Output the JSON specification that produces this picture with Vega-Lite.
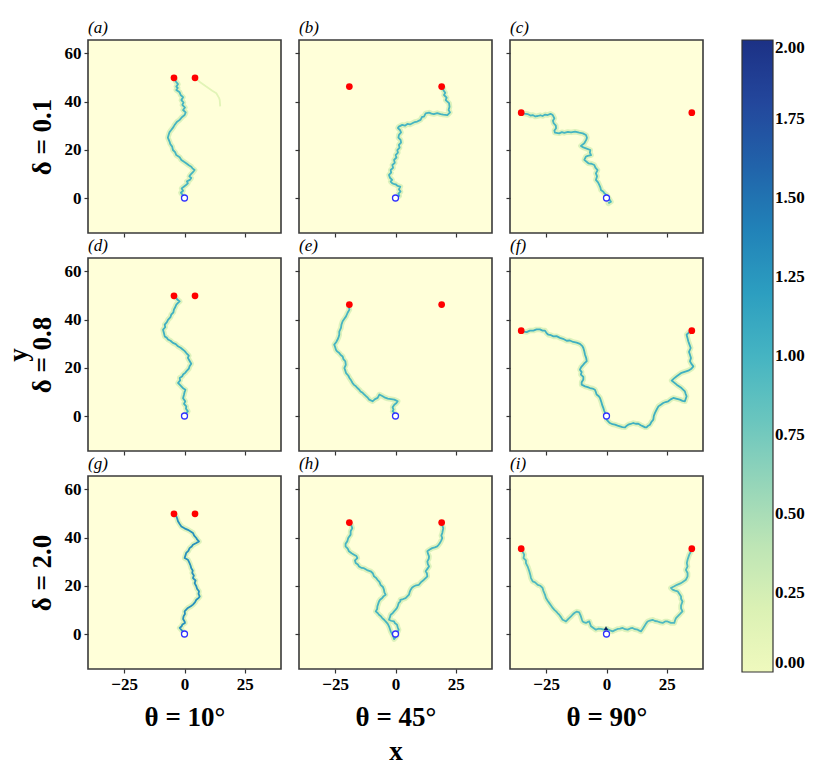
{
"$schema":"https://vega.github.io/schema/vega-lite/v6.json",
"padding":{"left":3,"top":18,"right":5,"bottom":5},
"background":"white",
"config":{
 "font":"Liberation Serif",
 "view":{"stroke":"#3a3a3a","strokeWidth":1.6,"fill":"#ffffd9"},
 "axis":{"domain":false,"grid":false,"ticks":true,"tickColor":"#333","tickSize":4,"tickWidth":1.2,"labelFont":"Liberation Serif","labelFontSize":17,"labelFontWeight":"bold","labelColor":"#000","labelPadding":3,"titleFont":"Liberation Serif","titleFontWeight":"bold","titleColor":"#000","titleFontSize":27},
 "axisX":{"titlePadding":12,"titleLineHeight":34},
 "axisY":{"titlePadding":8,"titleLineHeight":24},
 "title":{"anchor":"start","font":"Liberation Serif","fontSize":17,"fontStyle":"italic","fontWeight":"normal","offset":3,"color":"#000","frame":"group"},
 "legend":{"gradientLength":632,"gradientThickness":31,"labelFont":"Liberation Serif","labelFontSize":17,"labelFontWeight":"bold","labelColor":"#000","gradientStrokeColor":"#333","gradientStrokeWidth":1.2,"labelOffset":7,"orient":"right","offset":38},
 "range":{"ramp":{"scheme":"yellowgreenblue"}}
},
"datasets":{
 "tracks":[{"t":"a1","rho":1.0},{"t":"a2","rho":0.13},{"t":"b1","rho":1.0},{"t":"c1","rho":1.0},{"t":"d1","rho":1.05},{"t":"e1","rho":1.0},{"t":"f1","rho":1.05},{"t":"f2","rho":1.05},{"t":"g1","rho":1.3},{"t":"h1","rho":1.0},{"t":"h2","rho":1.0},{"t":"i1","rho":0.95},{"t":"i2","rho":0.95}],
 "pts":[
  {"p":"a","k":"target","x":-4.36,"y":49.81},{"p":"a","k":"target","x":4.36,"y":49.81},{"p":"a","k":"origin","x":0,"y":0},
  {"p":"b","k":"target","x":-19.13,"y":46.19},{"p":"b","k":"target","x":19.13,"y":46.19},{"p":"b","k":"origin","x":0,"y":0},
  {"p":"c","k":"target","x":-35.36,"y":35.36},{"p":"c","k":"target","x":35.36,"y":35.36},{"p":"c","k":"origin","x":0,"y":0},
  {"p":"d","k":"target","x":-4.36,"y":49.81},{"p":"d","k":"target","x":4.36,"y":49.81},{"p":"d","k":"origin","x":0,"y":0},
  {"p":"e","k":"target","x":-19.13,"y":46.19},{"p":"e","k":"target","x":19.13,"y":46.19},{"p":"e","k":"origin","x":0,"y":0},
  {"p":"f","k":"target","x":-35.36,"y":35.36},{"p":"f","k":"target","x":35.36,"y":35.36},{"p":"f","k":"origin","x":0,"y":0},
  {"p":"g","k":"target","x":-4.36,"y":49.81},{"p":"g","k":"target","x":4.36,"y":49.81},{"p":"g","k":"origin","x":0,"y":0},
  {"p":"h","k":"target","x":-19.13,"y":46.19},{"p":"h","k":"target","x":19.13,"y":46.19},{"p":"h","k":"origin","x":0,"y":0},
  {"p":"i","k":"target","x":-35.36,"y":35.36},{"p":"i","k":"target","x":35.36,"y":35.36},{"p":"i","k":"origin","x":0,"y":0},{"p":"i","k":"peak","x":-0.2,"y":2.4}
 ],
 "paths":[
  {"t":"a1","x":0,"y":0.5},{"t":"a1","x":-0.8,"y":1.3},{"t":"a1","x":-1.5,"y":2.2},{"t":"a1","x":-0.6,"y":3.0},{"t":"a1","x":-1.2,"y":4.0},{"t":"a1","x":-0.3,"y":4.7},{"t":"a1","x":0.5,"y":5.3},{"t":"a1","x":1.4,"y":6.1},{"t":"a1","x":1.0,"y":6.9},{"t":"a1","x":2.2,"y":7.5},{"t":"a1","x":2.8,"y":8.3},{"t":"a1","x":2.0,"y":9.0},{"t":"a1","x":2.6,"y":9.8},{"t":"a1","x":3.4,"y":10.6},{"t":"a1","x":4.2,"y":11.6},{"t":"a1","x":3.3,"y":12.3},{"t":"a1","x":2.8,"y":13.0},{"t":"a1","x":1.8,"y":13.6},{"t":"a1","x":0.7,"y":14.4},{"t":"a1","x":-0.2,"y":15.0},{"t":"a1","x":-1.3,"y":15.8},{"t":"a1","x":-2.0,"y":16.9},{"t":"a1","x":-3.4,"y":17.8},{"t":"a1","x":-3.9,"y":19.0},{"t":"a1","x":-4.8,"y":19.9},{"t":"a1","x":-5.1,"y":21.3},{"t":"a1","x":-5.9,"y":22.4},{"t":"a1","x":-6.2,"y":23.4},{"t":"a1","x":-6.9,"y":25.0},{"t":"a1","x":-6.6,"y":26.1},{"t":"a1","x":-6.2,"y":27.3},{"t":"a1","x":-5.5,"y":28.2},{"t":"a1","x":-4.6,"y":29.4},{"t":"a1","x":-4.1,"y":30.3},{"t":"a1","x":-3.2,"y":31.5},{"t":"a1","x":-2.0,"y":32.4},{"t":"a1","x":-1.1,"y":33.5},{"t":"a1","x":0.05,"y":34.4},{"t":"a1","x":0.5,"y":35.5},{"t":"a1","x":-0.6,"y":36.5},{"t":"a1","x":0.2,"y":37.5},{"t":"a1","x":-0.9,"y":38.6},{"t":"a1","x":-0.4,"y":39.6},{"t":"a1","x":-1.3,"y":40.6},{"t":"a1","x":-0.6,"y":41.8},{"t":"a1","x":-1.6,"y":42.7},{"t":"a1","x":-2.0,"y":43.8},{"t":"a1","x":-3.4,"y":44.8},{"t":"a1","x":-2.8,"y":45.6},{"t":"a1","x":-3.4,"y":46.2},{"t":"a1","x":-2.7,"y":47.2},{"t":"a1","x":-3.5,"y":48.2},{"t":"a1","x":-3.9,"y":49.0},{"t":"a1","x":-4.36,"y":49.81},
  {"t":"a2","x":4.4,"y":49.8},{"t":"a2","x":6.5,"y":48.0},{"t":"a2","x":9.0,"y":46.2},{"t":"a2","x":11.5,"y":44.5},{"t":"a2","x":13.2,"y":43.4},{"t":"a2","x":14.3,"y":41.5},{"t":"a2","x":14.6,"y":40.6},{"t":"a2","x":14.8,"y":38.0},
  {"t":"b1","x":0.6,"y":0.3},{"t":"b1","x":1.6,"y":0.9},{"t":"b1","x":1.2,"y":1.8},{"t":"b1","x":2.1,"y":2.65},{"t":"b1","x":1.4,"y":3.6},{"t":"b1","x":2.0,"y":4.7},{"t":"b1","x":0.9,"y":5.0},{"t":"b1","x":0.05,"y":5.7},{"t":"b1","x":-0.8,"y":5.9},{"t":"b1","x":-1.3,"y":6.1},{"t":"b1","x":-2.0,"y":6.8},{"t":"b1","x":-1.4,"y":7.5},{"t":"b1","x":-2.3,"y":8.4},{"t":"b1","x":-2.7,"y":9.6},{"t":"b1","x":-1.8,"y":10.5},{"t":"b1","x":-2.0,"y":11.6},{"t":"b1","x":-1.0,"y":12.5},{"t":"b1","x":-1.3,"y":13.7},{"t":"b1","x":-0.3,"y":14.6},{"t":"b1","x":-0.6,"y":15.8},{"t":"b1","x":0.4,"y":16.8},{"t":"b1","x":0.05,"y":17.8},{"t":"b1","x":1.0,"y":18.8},{"t":"b1","x":0.75,"y":19.9},{"t":"b1","x":1.7,"y":20.9},{"t":"b1","x":1.4,"y":22.0},{"t":"b1","x":2.3,"y":23.0},{"t":"b1","x":2.1,"y":24.1},{"t":"b1","x":1.2,"y":25.0},{"t":"b1","x":1.4,"y":26.1},{"t":"b1","x":2.3,"y":27.2},{"t":"b1","x":1.85,"y":28.2},{"t":"b1","x":1.0,"y":29.0},{"t":"b1","x":1.4,"y":29.6},{"t":"b1","x":2.8,"y":30.3},{"t":"b1","x":3.9,"y":30.0},{"t":"b1","x":4.9,"y":30.7},{"t":"b1","x":6.0,"y":30.5},{"t":"b1","x":7.0,"y":31.0},{"t":"b1","x":8.0,"y":31.5},{"t":"b1","x":9.0,"y":31.7},{"t":"b1","x":10.4,"y":32.4},{"t":"b1","x":11.0,"y":33.6},{"t":"b1","x":11.8,"y":33.7},{"t":"b1","x":12.5,"y":35.1},{"t":"b1","x":13.9,"y":35.4},{"t":"b1","x":14.9,"y":35.0},{"t":"b1","x":15.9,"y":34.8},{"t":"b1","x":17.3,"y":35.2},{"t":"b1","x":18.7,"y":34.8},{"t":"b1","x":19.8,"y":34.6},{"t":"b1","x":21.5,"y":34.4},{"t":"b1","x":22.6,"y":35.5},{"t":"b1","x":22.0,"y":36.5},{"t":"b1","x":22.4,"y":37.8},{"t":"b1","x":22.2,"y":39.3},{"t":"b1","x":20.8,"y":40.6},{"t":"b1","x":21.2,"y":41.6},{"t":"b1","x":20.1,"y":42.7},{"t":"b1","x":20.6,"y":43.6},{"t":"b1","x":19.8,"y":44.8},{"t":"b1","x":19.9,"y":45.5},{"t":"b1","x":19.13,"y":46.19},
  {"t":"c1","x":-35.36,"y":35.36},{"t":"c1","x":-34.0,"y":35.0},{"t":"c1","x":-32.7,"y":34.8},{"t":"c1","x":-31.5,"y":34.2},{"t":"c1","x":-30.6,"y":34.4},{"t":"c1","x":-29.5,"y":33.8},{"t":"c1","x":-28.5,"y":34.0},{"t":"c1","x":-27.4,"y":34.3},{"t":"c1","x":-26.5,"y":34.0},{"t":"c1","x":-25.4,"y":34.6},{"t":"c1","x":-24.4,"y":34.4},{"t":"c1","x":-23.2,"y":34.9},{"t":"c1","x":-22.3,"y":34.4},{"t":"c1","x":-21.6,"y":33.0},{"t":"c1","x":-22.2,"y":32.0},{"t":"c1","x":-21.9,"y":31.0},{"t":"c1","x":-21.0,"y":30.0},{"t":"c1","x":-20.9,"y":28.9},{"t":"c1","x":-21.6,"y":28.0},{"t":"c1","x":-21.4,"y":27.1},{"t":"c1","x":-19.6,"y":26.8},{"t":"c1","x":-18.5,"y":27.3},{"t":"c1","x":-17.5,"y":27.0},{"t":"c1","x":-16.0,"y":27.4},{"t":"c1","x":-14.7,"y":27.2},{"t":"c1","x":-13.0,"y":27.5},{"t":"c1","x":-11.3,"y":27.1},{"t":"c1","x":-9.8,"y":26.8},{"t":"c1","x":-8.5,"y":26.1},{"t":"c1","x":-8.1,"y":25.0},{"t":"c1","x":-8.4,"y":24.1},{"t":"c1","x":-9.2,"y":22.7},{"t":"c1","x":-10.6,"y":21.6},{"t":"c1","x":-9.6,"y":21.0},{"t":"c1","x":-8.5,"y":20.6},{"t":"c1","x":-6.7,"y":19.9},{"t":"c1","x":-6.9,"y":18.8},{"t":"c1","x":-6.4,"y":17.8},{"t":"c1","x":-7.8,"y":17.5},{"t":"c1","x":-8.5,"y":17.2},{"t":"c1","x":-9.2,"y":15.8},{"t":"c1","x":-7.5,"y":14.4},{"t":"c1","x":-6.2,"y":14.2},{"t":"c1","x":-5.05,"y":13.7},{"t":"c1","x":-4.6,"y":12.6},{"t":"c1","x":-3.7,"y":11.6},{"t":"c1","x":-4.4,"y":10.2},{"t":"c1","x":-3.9,"y":9.0},{"t":"c1","x":-4.4,"y":7.5},{"t":"c1","x":-3.5,"y":6.5},{"t":"c1","x":-3.0,"y":5.4},{"t":"c1","x":-2.5,"y":4.3},{"t":"c1","x":-2.3,"y":3.3},{"t":"c1","x":-1.3,"y":2.6},{"t":"c1","x":-0.9,"y":2.0},{"t":"c1","x":0.0,"y":1.3},{"t":"c1","x":0.5,"y":0.6},{"t":"c1","x":1.2,"y":-0.5},{"t":"c1","x":1.85,"y":-1.5},{"t":"c1","x":0.75,"y":-2.2},
  {"t":"d1","x":0.3,"y":0.6},{"t":"d1","x":1.4,"y":1.96},{"t":"d1","x":0.6,"y":3.0},{"t":"d1","x":0.75,"y":4.0},{"t":"d1","x":-0.2,"y":5.0},{"t":"d1","x":0.3,"y":6.1},{"t":"d1","x":-0.6,"y":7.4},{"t":"d1","x":-0.2,"y":8.9},{"t":"d1","x":0.05,"y":10.0},{"t":"d1","x":0.4,"y":10.9},{"t":"d1","x":-0.6,"y":11.5},{"t":"d1","x":-1.3,"y":12.3},{"t":"d1","x":-2.0,"y":13.0},{"t":"d1","x":-2.7,"y":13.7},{"t":"d1","x":-1.8,"y":14.8},{"t":"d1","x":-2.0,"y":15.8},{"t":"d1","x":-0.9,"y":16.5},{"t":"d1","x":-0.6,"y":17.2},{"t":"d1","x":0.4,"y":18.0},{"t":"d1","x":0.75,"y":18.5},{"t":"d1","x":1.8,"y":19.6},{"t":"d1","x":2.1,"y":20.6},{"t":"d1","x":2.8,"y":21.7},{"t":"d1","x":2.2,"y":22.7},{"t":"d1","x":1.4,"y":24.1},{"t":"d1","x":1.8,"y":25.0},{"t":"d1","x":0.75,"y":26.1},{"t":"d1","x":0.2,"y":26.8},{"t":"d1","x":-0.6,"y":27.5},{"t":"d1","x":-1.6,"y":28.3},{"t":"d1","x":-2.7,"y":28.9},{"t":"d1","x":-3.6,"y":29.8},{"t":"d1","x":-4.8,"y":30.3},{"t":"d1","x":-5.8,"y":31.2},{"t":"d1","x":-6.85,"y":31.7},{"t":"d1","x":-7.4,"y":32.5},{"t":"d1","x":-8.2,"y":33.0},{"t":"d1","x":-8.5,"y":34.3},{"t":"d1","x":-8.9,"y":35.8},{"t":"d1","x":-8.0,"y":36.8},{"t":"d1","x":-8.2,"y":37.9},{"t":"d1","x":-7.3,"y":38.9},{"t":"d1","x":-6.85,"y":39.9},{"t":"d1","x":-5.8,"y":41.0},{"t":"d1","x":-5.5,"y":42.0},{"t":"d1","x":-4.6,"y":43.0},{"t":"d1","x":-4.4,"y":44.1},{"t":"d1","x":-3.8,"y":45.2},{"t":"d1","x":-3.4,"y":46.2},{"t":"d1","x":-2.6,"y":47.0},{"t":"d1","x":-2.0,"y":47.5},{"t":"d1","x":-3.0,"y":48.3},{"t":"d1","x":-3.4,"y":48.9},{"t":"d1","x":-4.36,"y":49.81},
  {"t":"e1","x":0.2,"y":0.3},{"t":"e1","x":-0.5,"y":1.3},{"t":"e1","x":-1.2,"y":2.0},{"t":"e1","x":-0.8,"y":2.65},{"t":"e1","x":-1.2,"y":3.6},{"t":"e1","x":-0.5,"y":4.7},{"t":"e1","x":0.4,"y":5.4},{"t":"e1","x":0.9,"y":6.1},{"t":"e1","x":-0.5,"y":6.8},{"t":"e1","x":-1.8,"y":7.0},{"t":"e1","x":-3.2,"y":7.2},{"t":"e1","x":-4.3,"y":7.6},{"t":"e1","x":-5.3,"y":8.2},{"t":"e1","x":-6.7,"y":8.9},{"t":"e1","x":-7.4,"y":7.5},{"t":"e1","x":-8.5,"y":7.0},{"t":"e1","x":-9.5,"y":6.1},{"t":"e1","x":-10.9,"y":6.8},{"t":"e1","x":-11.5,"y":7.6},{"t":"e1","x":-12.2,"y":8.2},{"t":"e1","x":-13.0,"y":9.0},{"t":"e1","x":-13.6,"y":9.6},{"t":"e1","x":-14.5,"y":10.2},{"t":"e1","x":-15.0,"y":10.9},{"t":"e1","x":-15.8,"y":11.6},{"t":"e1","x":-16.4,"y":12.3},{"t":"e1","x":-17.2,"y":12.9},{"t":"e1","x":-17.8,"y":13.7},{"t":"e1","x":-18.4,"y":14.8},{"t":"e1","x":-19.1,"y":15.8},{"t":"e1","x":-19.6,"y":16.8},{"t":"e1","x":-20.5,"y":17.8},{"t":"e1","x":-20.8,"y":18.8},{"t":"e1","x":-21.2,"y":19.9},{"t":"e1","x":-20.6,"y":21.2},{"t":"e1","x":-20.8,"y":22.7},{"t":"e1","x":-21.6,"y":23.6},{"t":"e1","x":-21.9,"y":24.7},{"t":"e1","x":-22.8,"y":25.4},{"t":"e1","x":-23.3,"y":26.1},{"t":"e1","x":-24.2,"y":26.8},{"t":"e1","x":-24.7,"y":27.5},{"t":"e1","x":-25.0,"y":28.5},{"t":"e1","x":-25.4,"y":29.6},{"t":"e1","x":-24.6,"y":30.6},{"t":"e1","x":-24.0,"y":31.7},{"t":"e1","x":-23.6,"y":32.7},{"t":"e1","x":-23.3,"y":33.7},{"t":"e1","x":-23.3,"y":35.0},{"t":"e1","x":-22.6,"y":36.5},{"t":"e1","x":-22.4,"y":37.9},{"t":"e1","x":-21.9,"y":39.3},{"t":"e1","x":-21.2,"y":40.3},{"t":"e1","x":-20.5,"y":41.3},{"t":"e1","x":-19.9,"y":42.7},{"t":"e1","x":-19.1,"y":44.1},{"t":"e1","x":-19.3,"y":45.2},{"t":"e1","x":-19.13,"y":46.19},
  {"t":"f1","x":-35.36,"y":35.36},{"t":"f1","x":-34.2,"y":35.0},{"t":"f1","x":-33.1,"y":34.8},{"t":"f1","x":-31.8,"y":35.4},{"t":"f1","x":-30.3,"y":35.4},{"t":"f1","x":-29.0,"y":35.9},{"t":"f1","x":-27.6,"y":35.9},{"t":"f1","x":-26.5,"y":35.4},{"t":"f1","x":-25.5,"y":35.4},{"t":"f1","x":-24.8,"y":34.3},{"t":"f1","x":-24.1,"y":33.7},{"t":"f1","x":-23.0,"y":33.5},{"t":"f1","x":-22.0,"y":33.0},{"t":"f1","x":-20.7,"y":33.1},{"t":"f1","x":-19.3,"y":32.4},{"t":"f1","x":-18.0,"y":32.0},{"t":"f1","x":-16.5,"y":31.2},{"t":"f1","x":-15.2,"y":31.3},{"t":"f1","x":-13.8,"y":30.7},{"t":"f1","x":-12.4,"y":30.4},{"t":"f1","x":-11.0,"y":29.9},{"t":"f1","x":-10.0,"y":29.0},{"t":"f1","x":-9.6,"y":28.2},{"t":"f1","x":-9.2,"y":26.8},{"t":"f1","x":-8.9,"y":25.4},{"t":"f1","x":-8.4,"y":24.0},{"t":"f1","x":-8.2,"y":22.7},{"t":"f1","x":-9.0,"y":22.0},{"t":"f1","x":-9.6,"y":21.3},{"t":"f1","x":-10.5,"y":20.3},{"t":"f1","x":-11.0,"y":19.2},{"t":"f1","x":-10.3,"y":18.2},{"t":"f1","x":-10.6,"y":17.2},{"t":"f1","x":-9.6,"y":16.2},{"t":"f1","x":-9.6,"y":15.1},{"t":"f1","x":-10.3,"y":14.0},{"t":"f1","x":-10.3,"y":13.0},{"t":"f1","x":-8.9,"y":12.3},{"t":"f1","x":-7.8,"y":12.0},{"t":"f1","x":-6.85,"y":11.6},{"t":"f1","x":-5.8,"y":11.4},{"t":"f1","x":-4.8,"y":10.9},{"t":"f1","x":-4.4,"y":9.9},{"t":"f1","x":-4.1,"y":8.9},{"t":"f1","x":-3.2,"y":8.2},{"t":"f1","x":-2.7,"y":7.5},{"t":"f1","x":-2.4,"y":6.6},{"t":"f1","x":-2.0,"y":5.4},{"t":"f1","x":-1.8,"y":4.6},{"t":"f1","x":-1.3,"y":3.3},{"t":"f1","x":-1.0,"y":2.3},{"t":"f1","x":-0.6,"y":1.3},{"t":"f1","x":0,"y":0},
  {"t":"f2","x":0,"y":0},{"t":"f2","x":0.05,"y":-1.5},{"t":"f2","x":0.8,"y":-2.3},{"t":"f2","x":1.4,"y":-2.9},{"t":"f2","x":2.5,"y":-3.4},{"t":"f2","x":3.5,"y":-3.6},{"t":"f2","x":4.6,"y":-4.0},{"t":"f2","x":5.6,"y":-4.3},{"t":"f2","x":6.6,"y":-4.6},{"t":"f2","x":7.7,"y":-4.7},{"t":"f2","x":8.4,"y":-4.0},{"t":"f2","x":9.0,"y":-3.6},{"t":"f2","x":10.0,"y":-3.3},{"t":"f2","x":11.1,"y":-2.9},{"t":"f2","x":12.1,"y":-3.2},{"t":"f2","x":13.2,"y":-3.2},{"t":"f2","x":14.2,"y":-3.8},{"t":"f2","x":15.2,"y":-4.3},{"t":"f2","x":16.0,"y":-4.7},{"t":"f2","x":16.6,"y":-4.7},{"t":"f2","x":17.3,"y":-4.0},{"t":"f2","x":18.0,"y":-3.6},{"t":"f2","x":18.6,"y":-2.5},{"t":"f2","x":19.4,"y":-1.5},{"t":"f2","x":19.6,"y":0.0},{"t":"f2","x":20.1,"y":1.3},{"t":"f2","x":20.8,"y":2.7},{"t":"f2","x":21.5,"y":4.0},{"t":"f2","x":22.5,"y":4.7},{"t":"f2","x":23.5,"y":5.4},{"t":"f2","x":24.5,"y":5.8},{"t":"f2","x":25.6,"y":6.1},{"t":"f2","x":26.6,"y":6.9},{"t":"f2","x":27.7,"y":7.5},{"t":"f2","x":28.8,"y":7.2},{"t":"f2","x":30.4,"y":6.8},{"t":"f2","x":31.5,"y":6.3},{"t":"f2","x":32.5,"y":6.1},{"t":"f2","x":33.2,"y":8.2},{"t":"f2","x":32.8,"y":9.2},{"t":"f2","x":32.5,"y":10.2},{"t":"f2","x":31.1,"y":11.6},{"t":"f2","x":29.1,"y":13.0},{"t":"f2","x":27.0,"y":14.7},{"t":"f2","x":28.0,"y":15.6},{"t":"f2","x":29.1,"y":16.5},{"t":"f2","x":31.1,"y":17.9},{"t":"f2","x":33.9,"y":18.8},{"t":"f2","x":35.2,"y":19.6},{"t":"f2","x":36.0,"y":20.6},{"t":"f2","x":35.2,"y":21.6},{"t":"f2","x":34.6,"y":22.7},{"t":"f2","x":35.0,"y":24.0},{"t":"f2","x":34.6,"y":25.4},{"t":"f2","x":34.2,"y":26.6},{"t":"f2","x":34.9,"y":28.2},{"t":"f2","x":34.4,"y":29.6},{"t":"f2","x":33.9,"y":31.0},{"t":"f2","x":33.6,"y":32.2},{"t":"f2","x":33.2,"y":33.7},{"t":"f2","x":34.0,"y":34.5},{"t":"f2","x":34.6,"y":35.1},{"t":"f2","x":35.36,"y":35.36},
  {"t":"g1","x":0,"y":0.5},{"t":"g1","x":-1.0,"y":1.4},{"t":"g1","x":-2.0,"y":2.5},{"t":"g1","x":-1.2,"y":3.2},{"t":"g1","x":-0.9,"y":3.9},{"t":"g1","x":0.2,"y":4.6},{"t":"g1","x":0.05,"y":5.2},{"t":"g1","x":-0.6,"y":6.2},{"t":"g1","x":-0.4,"y":7.3},{"t":"g1","x":0.2,"y":8.3},{"t":"g1","x":0.05,"y":9.4},{"t":"g1","x":0.8,"y":10.2},{"t":"g1","x":1.4,"y":10.8},{"t":"g1","x":2.6,"y":11.5},{"t":"g1","x":3.5,"y":12.2},{"t":"g1","x":4.4,"y":13.2},{"t":"g1","x":4.9,"y":14.2},{"t":"g1","x":5.9,"y":15.0},{"t":"g1","x":6.3,"y":15.6},{"t":"g1","x":5.8,"y":16.6},{"t":"g1","x":6.0,"y":17.7},{"t":"g1","x":5.2,"y":18.8},{"t":"g1","x":4.9,"y":19.8},{"t":"g1","x":4.2,"y":21.1},{"t":"g1","x":4.6,"y":22.2},{"t":"g1","x":3.5,"y":23.2},{"t":"g1","x":3.9,"y":24.3},{"t":"g1","x":3.2,"y":25.3},{"t":"g1","x":3.4,"y":26.3},{"t":"g1","x":2.8,"y":27.3},{"t":"g1","x":2.5,"y":28.4},{"t":"g1","x":2.1,"y":29.4},{"t":"g1","x":1.4,"y":30.8},{"t":"g1","x":0.05,"y":31.5},{"t":"g1","x":0.4,"y":32.6},{"t":"g1","x":0.7,"y":33.6},{"t":"g1","x":1.6,"y":34.5},{"t":"g1","x":2.1,"y":35.6},{"t":"g1","x":3.0,"y":36.3},{"t":"g1","x":3.5,"y":37.0},{"t":"g1","x":4.9,"y":37.7},{"t":"g1","x":6.0,"y":38.4},{"t":"g1","x":5.2,"y":39.2},{"t":"g1","x":4.9,"y":39.8},{"t":"g1","x":4.0,"y":40.8},{"t":"g1","x":3.5,"y":41.9},{"t":"g1","x":2.4,"y":42.6},{"t":"g1","x":1.4,"y":43.2},{"t":"g1","x":0.0,"y":43.8},{"t":"g1","x":-1.3,"y":44.6},{"t":"g1","x":-2.0,"y":45.6},{"t":"g1","x":-2.7,"y":46.7},{"t":"g1","x":-3.0,"y":47.8},{"t":"g1","x":-3.4,"y":48.8},{"t":"g1","x":-4.36,"y":49.81},
  {"t":"h1","x":-19.13,"y":46.19},{"t":"h1","x":-18.4,"y":45.2},{"t":"h1","x":-17.9,"y":43.9},{"t":"h1","x":-18.6,"y":42.6},{"t":"h1","x":-18.6,"y":41.2},{"t":"h1","x":-19.6,"y":39.8},{"t":"h1","x":-20.0,"y":38.4},{"t":"h1","x":-20.7,"y":37.4},{"t":"h1","x":-20.7,"y":36.3},{"t":"h1","x":-19.8,"y":35.4},{"t":"h1","x":-19.3,"y":34.3},{"t":"h1","x":-18.2,"y":33.5},{"t":"h1","x":-17.2,"y":32.9},{"t":"h1","x":-16.2,"y":32.3},{"t":"h1","x":-15.8,"y":31.5},{"t":"h1","x":-16.8,"y":30.5},{"t":"h1","x":-16.5,"y":29.4},{"t":"h1","x":-15.6,"y":28.8},{"t":"h1","x":-15.1,"y":28.0},{"t":"h1","x":-14.0,"y":27.4},{"t":"h1","x":-13.1,"y":27.3},{"t":"h1","x":-11.8,"y":26.5},{"t":"h1","x":-10.3,"y":26.0},{"t":"h1","x":-9.4,"y":25.2},{"t":"h1","x":-8.9,"y":23.9},{"t":"h1","x":-8.0,"y":23.2},{"t":"h1","x":-7.5,"y":22.5},{"t":"h1","x":-6.6,"y":21.5},{"t":"h1","x":-6.2,"y":20.4},{"t":"h1","x":-5.2,"y":19.5},{"t":"h1","x":-4.8,"y":18.4},{"t":"h1","x":-4.6,"y":17.3},{"t":"h1","x":-4.1,"y":16.3},{"t":"h1","x":-5.0,"y":15.6},{"t":"h1","x":-5.5,"y":14.9},{"t":"h1","x":-6.4,"y":14.2},{"t":"h1","x":-6.85,"y":13.5},{"t":"h1","x":-7.2,"y":12.4},{"t":"h1","x":-7.5,"y":11.5},{"t":"h1","x":-7.6,"y":10.4},{"t":"h1","x":-8.2,"y":9.4},{"t":"h1","x":-7.4,"y":8.7},{"t":"h1","x":-6.85,"y":8.0},{"t":"h1","x":-6.0,"y":7.3},{"t":"h1","x":-5.5,"y":6.6},{"t":"h1","x":-4.6,"y":5.8},{"t":"h1","x":-4.1,"y":5.2},{"t":"h1","x":-3.2,"y":4.2},{"t":"h1","x":-2.7,"y":3.2},{"t":"h1","x":-2.3,"y":2.1},{"t":"h1","x":-2.0,"y":1.1},{"t":"h1","x":-1.4,"y":0.0},{"t":"h1","x":-0.9,"y":-1.0},{"t":"h1","x":-0.6,"y":-2.1},{"t":"h1","x":0.05,"y":-1.4},{"t":"h1","x":0.6,"y":-0.5},{"t":"h1","x":0,"y":0},
  {"t":"h2","x":0,"y":0},{"t":"h2","x":0.9,"y":0.8},{"t":"h2","x":1.3,"y":1.8},{"t":"h2","x":0.9,"y":2.8},{"t":"h2","x":0.6,"y":3.9},{"t":"h2","x":-0.3,"y":4.6},{"t":"h2","x":-0.6,"y":5.2},{"t":"h2","x":-1.8,"y":5.5},{"t":"h2","x":-2.7,"y":5.9},{"t":"h2","x":-2.3,"y":7.0},{"t":"h2","x":-2.0,"y":8.0},{"t":"h2","x":-1.2,"y":8.6},{"t":"h2","x":-0.6,"y":9.4},{"t":"h2","x":0.05,"y":10.1},{"t":"h2","x":0.6,"y":10.8},{"t":"h2","x":1.0,"y":11.8},{"t":"h2","x":1.3,"y":12.8},{"t":"h2","x":2.0,"y":13.5},{"t":"h2","x":2.0,"y":14.2},{"t":"h2","x":3.2,"y":14.5},{"t":"h2","x":4.2,"y":14.9},{"t":"h2","x":4.9,"y":15.6},{"t":"h2","x":5.6,"y":16.3},{"t":"h2","x":5.9,"y":17.5},{"t":"h2","x":6.3,"y":18.4},{"t":"h2","x":6.9,"y":19.3},{"t":"h2","x":7.7,"y":19.8},{"t":"h2","x":8.6,"y":20.2},{"t":"h2","x":9.7,"y":20.4},{"t":"h2","x":10.6,"y":21.5},{"t":"h2","x":11.8,"y":22.5},{"t":"h2","x":12.6,"y":23.3},{"t":"h2","x":13.2,"y":23.9},{"t":"h2","x":13.0,"y":25.2},{"t":"h2","x":12.5,"y":26.0},{"t":"h2","x":13.2,"y":27.0},{"t":"h2","x":13.9,"y":28.0},{"t":"h2","x":13.4,"y":29.0},{"t":"h2","x":13.2,"y":30.1},{"t":"h2","x":13.8,"y":31.2},{"t":"h2","x":13.9,"y":32.2},{"t":"h2","x":13.5,"y":33.2},{"t":"h2","x":13.2,"y":34.3},{"t":"h2","x":14.2,"y":35.0},{"t":"h2","x":15.2,"y":35.6},{"t":"h2","x":16.3,"y":35.9},{"t":"h2","x":17.3,"y":36.3},{"t":"h2","x":17.9,"y":37.0},{"t":"h2","x":18.4,"y":37.7},{"t":"h2","x":19.0,"y":38.8},{"t":"h2","x":19.4,"y":39.8},{"t":"h2","x":19.0,"y":40.8},{"t":"h2","x":19.4,"y":41.9},{"t":"h2","x":19.6,"y":42.9},{"t":"h2","x":19.8,"y":43.9},{"t":"h2","x":19.4,"y":45.0},{"t":"h2","x":19.13,"y":46.19},
  {"t":"i1","x":-35.36,"y":35.36},{"t":"i1","x":-34.8,"y":34.2},{"t":"i1","x":-34.1,"y":32.9},{"t":"i1","x":-34.4,"y":31.5},{"t":"i1","x":-33.4,"y":30.5},{"t":"i1","x":-33.4,"y":29.4},{"t":"i1","x":-32.6,"y":27.8},{"t":"i1","x":-32.0,"y":26.0},{"t":"i1","x":-31.6,"y":24.6},{"t":"i1","x":-31.3,"y":23.2},{"t":"i1","x":-30.6,"y":21.8},{"t":"i1","x":-29.6,"y":21.4},{"t":"i1","x":-28.5,"y":20.4},{"t":"i1","x":-27.4,"y":20.0},{"t":"i1","x":-26.5,"y":19.1},{"t":"i1","x":-26.2,"y":18.0},{"t":"i1","x":-25.8,"y":17.0},{"t":"i1","x":-25.4,"y":16.0},{"t":"i1","x":-25.1,"y":14.9},{"t":"i1","x":-24.4,"y":13.8},{"t":"i1","x":-23.7,"y":12.8},{"t":"i1","x":-23.0,"y":11.8},{"t":"i1","x":-22.3,"y":10.8},{"t":"i1","x":-21.6,"y":10.0},{"t":"i1","x":-20.9,"y":9.4},{"t":"i1","x":-20.2,"y":8.6},{"t":"i1","x":-19.6,"y":8.0},{"t":"i1","x":-18.8,"y":6.9},{"t":"i1","x":-18.2,"y":5.9},{"t":"i1","x":-17.5,"y":5.6},{"t":"i1","x":-16.8,"y":5.2},{"t":"i1","x":-15.7,"y":6.4},{"t":"i1","x":-14.7,"y":7.3},{"t":"i1","x":-14.0,"y":8.1},{"t":"i1","x":-13.3,"y":8.7},{"t":"i1","x":-12.3,"y":9.3},{"t":"i1","x":-11.3,"y":9.0},{"t":"i1","x":-10.9,"y":8.0},{"t":"i1","x":-10.6,"y":7.3},{"t":"i1","x":-10.2,"y":6.0},{"t":"i1","x":-9.9,"y":5.2},{"t":"i1","x":-9.2,"y":4.8},{"t":"i1","x":-8.5,"y":4.6},{"t":"i1","x":-7.8,"y":5.0},{"t":"i1","x":-7.1,"y":5.2},{"t":"i1","x":-6.8,"y":4.2},{"t":"i1","x":-6.4,"y":3.2},{"t":"i1","x":-5.4,"y":2.5},{"t":"i1","x":-4.4,"y":1.8},{"t":"i1","x":-3.4,"y":2.2},{"t":"i1","x":-2.3,"y":2.1},{"t":"i1","x":-1.1,"y":1.8},{"t":"i1","x":0.2,"y":2.1},
  {"t":"i2","x":0.2,"y":2.1},{"t":"i2","x":1.3,"y":1.6},{"t":"i2","x":2.5,"y":1.1},{"t":"i2","x":3.5,"y":1.6},{"t":"i2","x":4.6,"y":2.1},{"t":"i2","x":5.6,"y":2.2},{"t":"i2","x":6.7,"y":2.5},{"t":"i2","x":7.7,"y":2.0},{"t":"i2","x":8.8,"y":1.8},{"t":"i2","x":9.8,"y":2.3},{"t":"i2","x":10.8,"y":2.5},{"t":"i2","x":11.8,"y":2.0},{"t":"i2","x":12.9,"y":1.8},{"t":"i2","x":13.6,"y":1.4},{"t":"i2","x":14.3,"y":1.1},{"t":"i2","x":15.0,"y":2.1},{"t":"i2","x":15.7,"y":3.2},{"t":"i2","x":16.3,"y":4.2},{"t":"i2","x":17.0,"y":5.2},{"t":"i2","x":18.0,"y":5.6},{"t":"i2","x":19.1,"y":5.9},{"t":"i2","x":20.1,"y":5.4},{"t":"i2","x":21.2,"y":5.2},{"t":"i2","x":22.3,"y":4.8},{"t":"i2","x":23.3,"y":4.6},{"t":"i2","x":24.3,"y":5.2},{"t":"i2","x":25.3,"y":5.2},{"t":"i2","x":26.7,"y":4.6},{"t":"i2","x":28.1,"y":4.6},{"t":"i2","x":28.4,"y":5.6},{"t":"i2","x":28.8,"y":6.6},{"t":"i2","x":29.5,"y":7.3},{"t":"i2","x":30.2,"y":8.0},{"t":"i2","x":30.9,"y":8.8},{"t":"i2","x":31.5,"y":9.4},{"t":"i2","x":30.9,"y":10.6},{"t":"i2","x":30.9,"y":11.8},{"t":"i2","x":31.5,"y":13.5},{"t":"i2","x":30.9,"y":14.6},{"t":"i2","x":30.9,"y":15.6},{"t":"i2","x":29.5,"y":17.7},{"t":"i2","x":28.4,"y":18.0},{"t":"i2","x":27.4,"y":18.4},{"t":"i2","x":26.7,"y":19.1},{"t":"i2","x":28.1,"y":19.8},{"t":"i2","x":29.2,"y":20.4},{"t":"i2","x":30.9,"y":21.1},{"t":"i2","x":31.9,"y":21.8},{"t":"i2","x":32.9,"y":22.5},{"t":"i2","x":33.6,"y":23.9},{"t":"i2","x":33.6,"y":25.3},{"t":"i2","x":32.9,"y":26.6},{"t":"i2","x":33.6,"y":28.0},{"t":"i2","x":33.3,"y":29.4},{"t":"i2","x":33.6,"y":30.8},{"t":"i2","x":34.3,"y":32.9},{"t":"i2","x":35.0,"y":34.2},{"t":"i2","x":35.36,"y":35.36}
 ]
},
"spacing":-3,
"vconcat":[
 {"spacing":11,"hconcat":[
  {"title":"(a)","width":193,"height":193,
   "encoding":{"x":{"field":"x","type":"quantitative","scale":{"domain":[-40,40]},"axis":{"values":[-25,0,25],"labels":false,"title":null}},"y":{"field":"y","type":"quantitative","scale":{"domain":[-14.5,65.5]},"axis":{"values":[0,20,40,60],"title":[" ","δ = 0.1"]}}},
   "layer":[
    {"data":{"name":"paths"},"transform":[{"filter":"substring(datum.t,0,1)=='a'"},{"lookup":"t","from":{"data":{"name":"tracks"},"key":"t","fields":["rho"]}}],
     "layer":[
      {"transform":[{"filter":"datum.rho>0.5"}],"mark":{"type":"line","stroke":"#d4efb4","strokeWidth":5.5,"strokeJoin":"round","strokeCap":"round","opacity":0.8},"encoding":{"detail":{"field":"t"},"order":{"value":null}}},
      {"mark":{"type":"line","strokeWidth":1.8,"strokeJoin":"round"},"encoding":{"color":{"field":"rho","type":"quantitative","scale":{"domain":[0,2]},"legend":{"title":null,"values":[0,0.25,0.5,0.75,1,1.25,1.5,1.75,2],"format":".2f"}},"detail":{"field":"t"},"order":{"value":null}}}
     ]},
    {"data":{"name":"pts"},"transform":[{"filter":"datum.p=='a'"}],"layer":[
      {"transform":[{"filter":"datum.k=='target'"}],"mark":{"type":"point","filled":true,"color":"#ff0000","size":45,"opacity":1}},
      {"transform":[{"filter":"datum.k=='origin'"}],"mark":{"type":"point","filled":true,"fill":"#ffffff","stroke":"#2f2fff","strokeWidth":1.3,"size":36,"opacity":1}}
     ]}
   ]},
  {"title":"(b)","width":193,"height":193,
   "encoding":{"x":{"field":"x","type":"quantitative","scale":{"domain":[-40,40]},"axis":{"values":[-25,0,25],"labels":false,"title":null}},"y":{"field":"y","type":"quantitative","scale":{"domain":[-14.5,65.5]},"axis":{"values":[0,20,40,60],"labels":false,"title":null}}},
   "layer":[
    {"data":{"name":"paths"},"transform":[{"filter":"substring(datum.t,0,1)=='b'"},{"lookup":"t","from":{"data":{"name":"tracks"},"key":"t","fields":["rho"]}}],
     "layer":[
      {"transform":[{"filter":"datum.rho>0.5"}],"mark":{"type":"line","stroke":"#d4efb4","strokeWidth":5.5,"strokeJoin":"round","strokeCap":"round","opacity":0.8},"encoding":{"detail":{"field":"t"},"order":{"value":null}}},
      {"mark":{"type":"line","strokeWidth":1.8,"strokeJoin":"round"},"encoding":{"color":{"field":"rho","type":"quantitative","scale":{"domain":[0,2]},"legend":{"title":null,"values":[0,0.25,0.5,0.75,1,1.25,1.5,1.75,2],"format":".2f"}},"detail":{"field":"t"},"order":{"value":null}}}
     ]},
    {"data":{"name":"pts"},"transform":[{"filter":"datum.p=='b'"}],"layer":[
      {"transform":[{"filter":"datum.k=='target'"}],"mark":{"type":"point","filled":true,"color":"#ff0000","size":45,"opacity":1}},
      {"transform":[{"filter":"datum.k=='origin'"}],"mark":{"type":"point","filled":true,"fill":"#ffffff","stroke":"#2f2fff","strokeWidth":1.3,"size":36,"opacity":1}}
     ]}
   ]},
  {"title":"(c)","width":193,"height":193,
   "encoding":{"x":{"field":"x","type":"quantitative","scale":{"domain":[-40,40]},"axis":{"values":[-25,0,25],"labels":false,"title":null}},"y":{"field":"y","type":"quantitative","scale":{"domain":[-14.5,65.5]},"axis":{"values":[0,20,40,60],"labels":false,"title":null}}},
   "layer":[
    {"data":{"name":"paths"},"transform":[{"filter":"substring(datum.t,0,1)=='c'"},{"lookup":"t","from":{"data":{"name":"tracks"},"key":"t","fields":["rho"]}}],
     "layer":[
      {"transform":[{"filter":"datum.rho>0.5"}],"mark":{"type":"line","stroke":"#d4efb4","strokeWidth":5.5,"strokeJoin":"round","strokeCap":"round","opacity":0.8},"encoding":{"detail":{"field":"t"},"order":{"value":null}}},
      {"mark":{"type":"line","strokeWidth":1.8,"strokeJoin":"round"},"encoding":{"color":{"field":"rho","type":"quantitative","scale":{"domain":[0,2]},"legend":{"title":null,"values":[0,0.25,0.5,0.75,1,1.25,1.5,1.75,2],"format":".2f"}},"detail":{"field":"t"},"order":{"value":null}}}
     ]},
    {"data":{"name":"pts"},"transform":[{"filter":"datum.p=='c'"}],"layer":[
      {"transform":[{"filter":"datum.k=='target'"}],"mark":{"type":"point","filled":true,"color":"#ff0000","size":45,"opacity":1}},
      {"transform":[{"filter":"datum.k=='origin'"}],"mark":{"type":"point","filled":true,"fill":"#ffffff","stroke":"#2f2fff","strokeWidth":1.3,"size":36,"opacity":1}}
     ]}
   ]}
 ]},
 {"spacing":11,"hconcat":[
  {"title":"(d)","width":193,"height":193,
   "encoding":{"x":{"field":"x","type":"quantitative","scale":{"domain":[-40,40]},"axis":{"values":[-25,0,25],"labels":false,"title":null}},"y":{"field":"y","type":"quantitative","scale":{"domain":[-14.5,65.5]},"axis":{"values":[0,20,40,60],"title":["y","δ = 0.8"]}}},
   "layer":[
    {"data":{"name":"paths"},"transform":[{"filter":"substring(datum.t,0,1)=='d'"},{"lookup":"t","from":{"data":{"name":"tracks"},"key":"t","fields":["rho"]}}],
     "layer":[
      {"transform":[{"filter":"datum.rho>0.5"}],"mark":{"type":"line","stroke":"#d4efb4","strokeWidth":5.5,"strokeJoin":"round","strokeCap":"round","opacity":0.8},"encoding":{"detail":{"field":"t"},"order":{"value":null}}},
      {"mark":{"type":"line","strokeWidth":1.8,"strokeJoin":"round"},"encoding":{"color":{"field":"rho","type":"quantitative","scale":{"domain":[0,2]},"legend":{"title":null,"values":[0,0.25,0.5,0.75,1,1.25,1.5,1.75,2],"format":".2f"}},"detail":{"field":"t"},"order":{"value":null}}}
     ]},
    {"data":{"name":"pts"},"transform":[{"filter":"datum.p=='d'"}],"layer":[
      {"transform":[{"filter":"datum.k=='target'"}],"mark":{"type":"point","filled":true,"color":"#ff0000","size":45,"opacity":1}},
      {"transform":[{"filter":"datum.k=='origin'"}],"mark":{"type":"point","filled":true,"fill":"#ffffff","stroke":"#2f2fff","strokeWidth":1.3,"size":36,"opacity":1}}
     ]}
   ]},
  {"title":"(e)","width":193,"height":193,
   "encoding":{"x":{"field":"x","type":"quantitative","scale":{"domain":[-40,40]},"axis":{"values":[-25,0,25],"labels":false,"title":null}},"y":{"field":"y","type":"quantitative","scale":{"domain":[-14.5,65.5]},"axis":{"values":[0,20,40,60],"labels":false,"title":null}}},
   "layer":[
    {"data":{"name":"paths"},"transform":[{"filter":"substring(datum.t,0,1)=='e'"},{"lookup":"t","from":{"data":{"name":"tracks"},"key":"t","fields":["rho"]}}],
     "layer":[
      {"transform":[{"filter":"datum.rho>0.5"}],"mark":{"type":"line","stroke":"#d4efb4","strokeWidth":5.5,"strokeJoin":"round","strokeCap":"round","opacity":0.8},"encoding":{"detail":{"field":"t"},"order":{"value":null}}},
      {"mark":{"type":"line","strokeWidth":1.8,"strokeJoin":"round"},"encoding":{"color":{"field":"rho","type":"quantitative","scale":{"domain":[0,2]},"legend":{"title":null,"values":[0,0.25,0.5,0.75,1,1.25,1.5,1.75,2],"format":".2f"}},"detail":{"field":"t"},"order":{"value":null}}}
     ]},
    {"data":{"name":"pts"},"transform":[{"filter":"datum.p=='e'"}],"layer":[
      {"transform":[{"filter":"datum.k=='target'"}],"mark":{"type":"point","filled":true,"color":"#ff0000","size":45,"opacity":1}},
      {"transform":[{"filter":"datum.k=='origin'"}],"mark":{"type":"point","filled":true,"fill":"#ffffff","stroke":"#2f2fff","strokeWidth":1.3,"size":36,"opacity":1}}
     ]}
   ]},
  {"title":"(f)","width":193,"height":193,
   "encoding":{"x":{"field":"x","type":"quantitative","scale":{"domain":[-40,40]},"axis":{"values":[-25,0,25],"labels":false,"title":null}},"y":{"field":"y","type":"quantitative","scale":{"domain":[-14.5,65.5]},"axis":{"values":[0,20,40,60],"labels":false,"title":null}}},
   "layer":[
    {"data":{"name":"paths"},"transform":[{"filter":"substring(datum.t,0,1)=='f'"},{"lookup":"t","from":{"data":{"name":"tracks"},"key":"t","fields":["rho"]}}],
     "layer":[
      {"transform":[{"filter":"datum.rho>0.5"}],"mark":{"type":"line","stroke":"#d4efb4","strokeWidth":5.5,"strokeJoin":"round","strokeCap":"round","opacity":0.8},"encoding":{"detail":{"field":"t"},"order":{"value":null}}},
      {"mark":{"type":"line","strokeWidth":1.8,"strokeJoin":"round"},"encoding":{"color":{"field":"rho","type":"quantitative","scale":{"domain":[0,2]},"legend":{"title":null,"values":[0,0.25,0.5,0.75,1,1.25,1.5,1.75,2],"format":".2f"}},"detail":{"field":"t"},"order":{"value":null}}}
     ]},
    {"data":{"name":"pts"},"transform":[{"filter":"datum.p=='f'"}],"layer":[
      {"transform":[{"filter":"datum.k=='target'"}],"mark":{"type":"point","filled":true,"color":"#ff0000","size":45,"opacity":1}},
      {"transform":[{"filter":"datum.k=='origin'"}],"mark":{"type":"point","filled":true,"fill":"#ffffff","stroke":"#2f2fff","strokeWidth":1.3,"size":36,"opacity":1}}
     ]}
   ]}
 ]},
 {"spacing":11,"hconcat":[
  {"title":"(g)","width":193,"height":193,
   "encoding":{"x":{"field":"x","type":"quantitative","scale":{"domain":[-40,40]},"axis":{"values":[-25,0,25],"title":["θ = 10°"," "]}},"y":{"field":"y","type":"quantitative","scale":{"domain":[-14.5,65.5]},"axis":{"values":[0,20,40,60],"title":[" ","δ = 2.0"]}}},
   "layer":[
    {"data":{"name":"paths"},"transform":[{"filter":"substring(datum.t,0,1)=='g'"},{"lookup":"t","from":{"data":{"name":"tracks"},"key":"t","fields":["rho"]}}],
     "layer":[
      {"transform":[{"filter":"datum.rho>0.5"}],"mark":{"type":"line","stroke":"#d4efb4","strokeWidth":5.5,"strokeJoin":"round","strokeCap":"round","opacity":0.8},"encoding":{"detail":{"field":"t"},"order":{"value":null}}},
      {"mark":{"type":"line","strokeWidth":1.8,"strokeJoin":"round"},"encoding":{"color":{"field":"rho","type":"quantitative","scale":{"domain":[0,2]},"legend":{"title":null,"values":[0,0.25,0.5,0.75,1,1.25,1.5,1.75,2],"format":".2f"}},"detail":{"field":"t"},"order":{"value":null}}}
     ]},
    {"data":{"name":"pts"},"transform":[{"filter":"datum.p=='g'"}],"layer":[
      {"transform":[{"filter":"datum.k=='target'"}],"mark":{"type":"point","filled":true,"color":"#ff0000","size":45,"opacity":1}},
      {"transform":[{"filter":"datum.k=='origin'"}],"mark":{"type":"point","filled":true,"fill":"#ffffff","stroke":"#2f2fff","strokeWidth":1.3,"size":36,"opacity":1}}
     ]}
   ]},
  {"title":"(h)","width":193,"height":193,
   "encoding":{"x":{"field":"x","type":"quantitative","scale":{"domain":[-40,40]},"axis":{"values":[-25,0,25],"title":["θ = 45°","x"]}},"y":{"field":"y","type":"quantitative","scale":{"domain":[-14.5,65.5]},"axis":{"values":[0,20,40,60],"labels":false,"title":null}}},
   "layer":[
    {"data":{"name":"paths"},"transform":[{"filter":"substring(datum.t,0,1)=='h'"},{"lookup":"t","from":{"data":{"name":"tracks"},"key":"t","fields":["rho"]}}],
     "layer":[
      {"transform":[{"filter":"datum.rho>0.5"}],"mark":{"type":"line","stroke":"#d4efb4","strokeWidth":5.5,"strokeJoin":"round","strokeCap":"round","opacity":0.8},"encoding":{"detail":{"field":"t"},"order":{"value":null}}},
      {"mark":{"type":"line","strokeWidth":1.8,"strokeJoin":"round"},"encoding":{"color":{"field":"rho","type":"quantitative","scale":{"domain":[0,2]},"legend":{"title":null,"values":[0,0.25,0.5,0.75,1,1.25,1.5,1.75,2],"format":".2f"}},"detail":{"field":"t"},"order":{"value":null}}}
     ]},
    {"data":{"name":"pts"},"transform":[{"filter":"datum.p=='h'"}],"layer":[
      {"transform":[{"filter":"datum.k=='target'"}],"mark":{"type":"point","filled":true,"color":"#ff0000","size":45,"opacity":1}},
      {"transform":[{"filter":"datum.k=='origin'"}],"mark":{"type":"point","filled":true,"fill":"#ffffff","stroke":"#2f2fff","strokeWidth":1.3,"size":36,"opacity":1}}
     ]}
   ]},
  {"title":"(i)","width":193,"height":193,
   "encoding":{"x":{"field":"x","type":"quantitative","scale":{"domain":[-40,40]},"axis":{"values":[-25,0,25],"title":["θ = 90°"," "]}},"y":{"field":"y","type":"quantitative","scale":{"domain":[-14.5,65.5]},"axis":{"values":[0,20,40,60],"labels":false,"title":null}}},
   "layer":[
    {"data":{"name":"paths"},"transform":[{"filter":"substring(datum.t,0,1)=='i'"},{"lookup":"t","from":{"data":{"name":"tracks"},"key":"t","fields":["rho"]}}],
     "layer":[
      {"transform":[{"filter":"datum.rho>0.5"}],"mark":{"type":"line","stroke":"#d4efb4","strokeWidth":5.5,"strokeJoin":"round","strokeCap":"round","opacity":0.8},"encoding":{"detail":{"field":"t"},"order":{"value":null}}},
      {"mark":{"type":"line","strokeWidth":1.8,"strokeJoin":"round"},"encoding":{"color":{"field":"rho","type":"quantitative","scale":{"domain":[0,2]},"legend":{"title":null,"values":[0,0.25,0.5,0.75,1,1.25,1.5,1.75,2],"format":".2f"}},"detail":{"field":"t"},"order":{"value":null}}}
     ]},
    {"data":{"name":"pts"},"transform":[{"filter":"datum.p=='i'"}],"layer":[
      {"transform":[{"filter":"datum.k=='target'"}],"mark":{"type":"point","filled":true,"color":"#ff0000","size":45,"opacity":1}},
      {"transform":[{"filter":"datum.k=='peak'"}],"mark":{"type":"point","shape":"triangle-up","filled":true,"color":"#0b1f5c","size":22,"opacity":1}},
      {"transform":[{"filter":"datum.k=='origin'"}],"mark":{"type":"point","filled":true,"fill":"#ffffff","stroke":"#2f2fff","strokeWidth":1.3,"size":36,"opacity":1}}
     ]}
   ]}
 ]}
]
}
